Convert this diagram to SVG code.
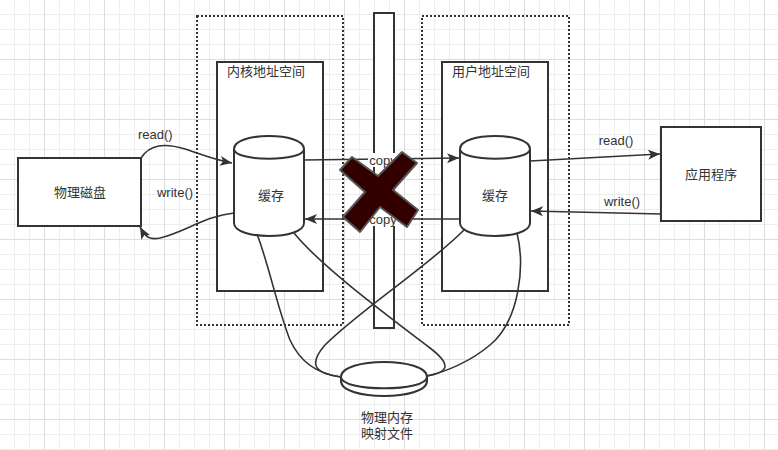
<svg xmlns="http://www.w3.org/2000/svg" width="778" height="450" viewBox="0 0 778 450">
<style>
.t{font-family:"Liberation Sans","Noto Sans CJK SC",sans-serif;font-size:13px;fill:#333;dominant-baseline:central}
.c{text-anchor:middle}
.box{fill:#fff;stroke:#333;stroke-width:2}
.dot{fill:none;stroke:#333;stroke-width:2;stroke-dasharray:2 2}
.ln{fill:none;stroke:#333;stroke-width:1.6}
</style>
<defs>
<pattern id="grid" patternUnits="userSpaceOnUse" x="-16" y="-1" width="60" height="60">
<path d="M15.5,0V60M30.5,0V60M45.5,0V60M0,15.5H60M0,30.5H60M0,45.5H60" stroke="#eeeeee" stroke-width="1" fill="none"/>
<path d="M0.5,0V60M0,0.5H60" stroke="#dddddd" stroke-width="1" fill="none"/>
</pattern>
<marker id="arr" markerUnits="userSpaceOnUse" markerWidth="13" markerHeight="11" refX="12" refY="5" orient="auto">
<path d="M0,0 L12,5 L0,10 L3,5 Z" fill="#333"/>
</marker>
</defs>
<rect width="778" height="450" fill="#fff"/>
<rect width="778" height="450" fill="url(#grid)"/>

<g id="kernel-space">
<rect class="dot" x="197" y="16" width="146" height="309"/>
<rect class="box" x="217" y="62" width="106" height="229"/>
<text class="t" x="227" y="71">内核地址空间</text>
</g>
<g id="user-space">
<rect class="dot" x="422" y="16" width="147" height="309"/>
<rect class="box" x="442" y="62" width="106" height="229"/>
<text class="t" x="452" y="71">用户地址空间</text>
</g>
<g id="pipe">
<rect class="box" x="374" y="13" width="20" height="315"/>
</g>
<g id="disk">
<rect class="box" x="18" y="158" width="123" height="68"/>
<text class="t c" x="80" y="192">物理磁盘</text>
</g>
<g id="app">
<rect class="box" x="661" y="127" width="100" height="94"/>
<text class="t c" x="711" y="174">应用程序</text>
</g>
<g id="kernel-cache">
<path class="box" d="M234,149 C234,131.7 304,131.7 304,149 L304,223 C304,240.3 234,240.3 234,223 Z"/>
<path class="box" d="M234,149 C234,162 304,162 304,149" fill="none"/>
<text class="t c" x="271" y="195">缓存</text>
</g>
<g id="user-cache">
<path class="box" d="M460,149 C460,131.7 530,131.7 530,149 L530,223 C530,240.3 460,240.3 460,223 Z"/>
<path class="box" d="M460,149 C460,162 530,162 530,149" fill="none"/>
<text class="t c" x="495" y="195">缓存</text>
</g>

<g id="connectors">
<path class="ln" d="M141,158 C150,144 165,143 185,149 C200,154 215,160 232,163" marker-end="url(#arr)"/>
<path class="ln" d="M234,213 C205,216 185,232 160,238 C150,240 146,238 140,227" marker-end="url(#arr)"/>
<path class="ln" d="M304,160 L459,158" marker-end="url(#arr)"/>
<path class="ln" d="M460,219 L305,219" marker-end="url(#arr)"/>
<path class="ln" d="M530,161 L660,154" marker-end="url(#arr)"/>
<path class="ln" d="M661,214 L531,211" marker-end="url(#arr)"/>
<path class="ln" d="M257,234 C268,262 278,310 290,340 C300,362 318,374 341,377"/>
<path class="ln" d="M294,233 C320,265 380,310 430,348 C455,367 445,373 427,376"/>
<path class="ln" d="M465,229 C430,265 360,310 325,345 C305,368 320,374 341,377"/>
<path class="ln" d="M517,233 C525,265 520,320 490,345 C470,362 445,372 427,376"/>
<text class="t" x="138" y="134">read()</text>
<text class="t c" x="175" y="192">write()</text>
<text class="t c" x="616" y="140">read()</text>
<text class="t c" x="622" y="201">write()</text>
<rect x="368" y="153" width="30" height="14" fill="#fff"/>
<text class="t c" x="383" y="160">copy</text>
<rect x="368" y="212" width="30" height="14" fill="#fff"/>
<text class="t c" x="383" y="219">copy</text>
</g>

<g id="memory-file">
<path class="box" d="M341,377 C341,357 427,357 427,377 L427,381 C427,401 341,401 341,381 Z"/>
<path class="box" d="M341,377 C341,392 427,392 427,377" fill="none"/>
<text class="t c" x="387" y="417">物理内存</text>
<text class="t c" x="387" y="433">映射文件</text>
</g>

<g id="cross">
<polygon points="340,170 352,157 378,176 402,152 417,163 393,190 418,210 407,227 380,207 360,232 343,217 365,192" fill="#330000" stroke="#555" stroke-width="2" stroke-linejoin="round"/>
</g>
</svg>
